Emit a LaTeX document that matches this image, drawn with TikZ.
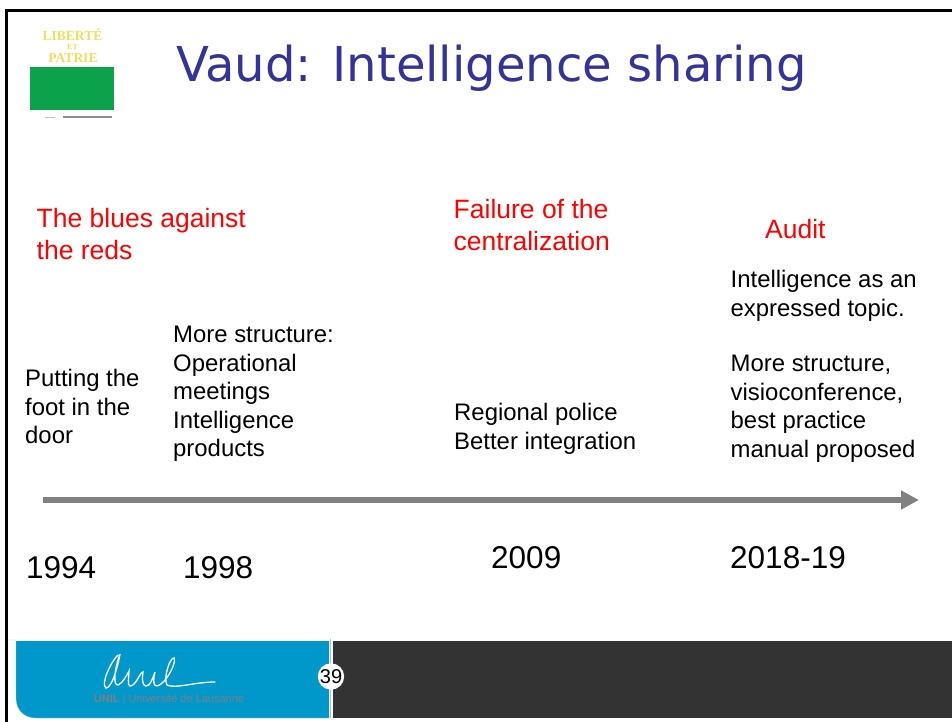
\documentclass[tikz,border=0pt]{standalone}
\usepackage{fontspec}
\setmainfont{Liberation Sans}
\newfontfamily\titlefont{DejaVu Sans}
\newfontfamily\mottofont{Liberation Serif}
\usetikzlibrary{arrows.meta}
\definecolor{unilblue}{HTML}{0097CB}
\definecolor{unildark}{HTML}{333333}
\definecolor{titleblue}{HTML}{333399}
\definecolor{vaudgreen}{HTML}{0BA24B}
\definecolor{mottoyellow}{HTML}{F2DC5A}

\begin{document}
\begin{tikzpicture}[
    x=1pt, y=-1pt,
    label/.style={inner sep=0pt, anchor=north west, align=left, font=\fontsize{23.9}{28.5}\selectfont},
    heading/.style={inner sep=0pt, anchor=north west, align=left, text=red, font=\fontsize{26.5}{32}\selectfont},
    year/.style={inner sep=0pt, anchor=base west, font=\fontsize{31.5}{36}\selectfont},
    motto/.style={inner sep=0pt, anchor=base, text=mottoyellow, font=\mottofont\bfseries\fontsize{13.5}{14}\selectfont},
    axis/.style={-{Triangle[length=18pt,width=18pt]}, line width=6pt, draw=black!50}
]
\useasboundingbox (0,0) rectangle (952,722);

% Frame
\draw[line width=3pt] (6.5,722) -- (6.5,10.5) -- (952,10.5);

% Logo
\fill[vaudgreen] (30,67) rectangle (114,110);
\node[motto] (liberte) at (72.5,41) {LIBERTÉ};
\node[motto, font=\mottofont\bfseries\fontsize{8}{8}\selectfont] (et) at (72.5,50) {ET};
\node[motto] (patrie) at (73,63) {PATRIE};
\fill[black!45] (63,116.5) rectangle (112,118);
\fill[black!25] (45,117) rectangle (55,118);

% Title
\node[inner sep=0pt, anchor=base west, text=titleblue, font=\titlefont\fontsize{48.1}{50}\selectfont] (title) at (176,82) {Vaud: Intelligence sharing};

% Top row
\node[heading] (blues) at (36.5,208) {The blues against\\the reds};
\node[heading] (failure) at (453.5,199) {Failure of the\\centralization};
\node[heading] (audit) at (765,219) {Audit};

% Middle row
\node[label] (foot) at (25,369) {Putting the\\foot in the\\door};
\node[label] (structure) at (173,326) {More structure:\\Operational\\meetings\\Intelligence\\products};
\node[label] (regional) at (454,403) {Regional police\\Better integration};
\node[label] (topic) at (730.5,270) {Intelligence as an\\expressed topic.};
\node[label] (manual) at (730.5,355) {More structure,\\visioconference,\\best practice\\manual proposed};

% Time axis
\coordinate (start) at (43,500);
\coordinate (end) at (919,500);
\draw[axis] (start) -- (end);

% Years
\node[year] (y1994) at (26,578) {1994};
\node[year] (y1998) at (183,578) {1998};
\node[year] (y2009) at (491,568) {2009};
\node[year] (y2018) at (730,568) {2018-19};

% Footer
\fill[unilblue] (16,641) -- (329,641) -- (329,718) -- (36,718) .. controls (24,718) and (16,710) .. (16,698) -- cycle;
\fill[unildark] (333,641) rectangle (952,718);
\draw[black!25] (8,640) -- (16,640) -- (16,698) .. controls (16,710) and (24,718) .. (36,718) -- (329,718);
\draw[black!25] (330,639) -- (330,718);
\draw[white, line width=2pt] (331.5,641) -- (331.5,718);
\node[circle, fill=white, inner sep=0pt, minimum size=26pt, font=\fontsize{20}{20}\selectfont] (page) at (331,676.5) {39};

% Unil signature
\draw[white, line width=1.3pt, line cap=round]
    (118,655) .. controls (112,660) and (100,684) .. (106,688)
    .. controls (112,688) and (118,666) .. (120,654)
    .. controls (114,670) and (113,686) .. (118,685)
    .. controls (122,684) and (127,675) .. (129,671)
    .. controls (129,676) and (127,686) .. (130,686)
    .. controls (136,686) and (140,672) .. (143,672)
    .. controls (142,678) and (142,686) .. (146,686)
    .. controls (150,686) and (152,680) .. (155,672)
    .. controls (153,680) and (153,686) .. (157,686)
    .. controls (166,684) and (177,662) .. (174,658)
    .. controls (170,657) and (163,678) .. (167,685)
    .. controls (175,689) and (195,682) .. (215,682);
\node[inner sep=0pt, text=black!50, font=\fontsize{11}{11}\selectfont] (unil) at (169,700) {\textbf{UNIL} | Université de Lausanne};
\end{tikzpicture}
\end{document}
